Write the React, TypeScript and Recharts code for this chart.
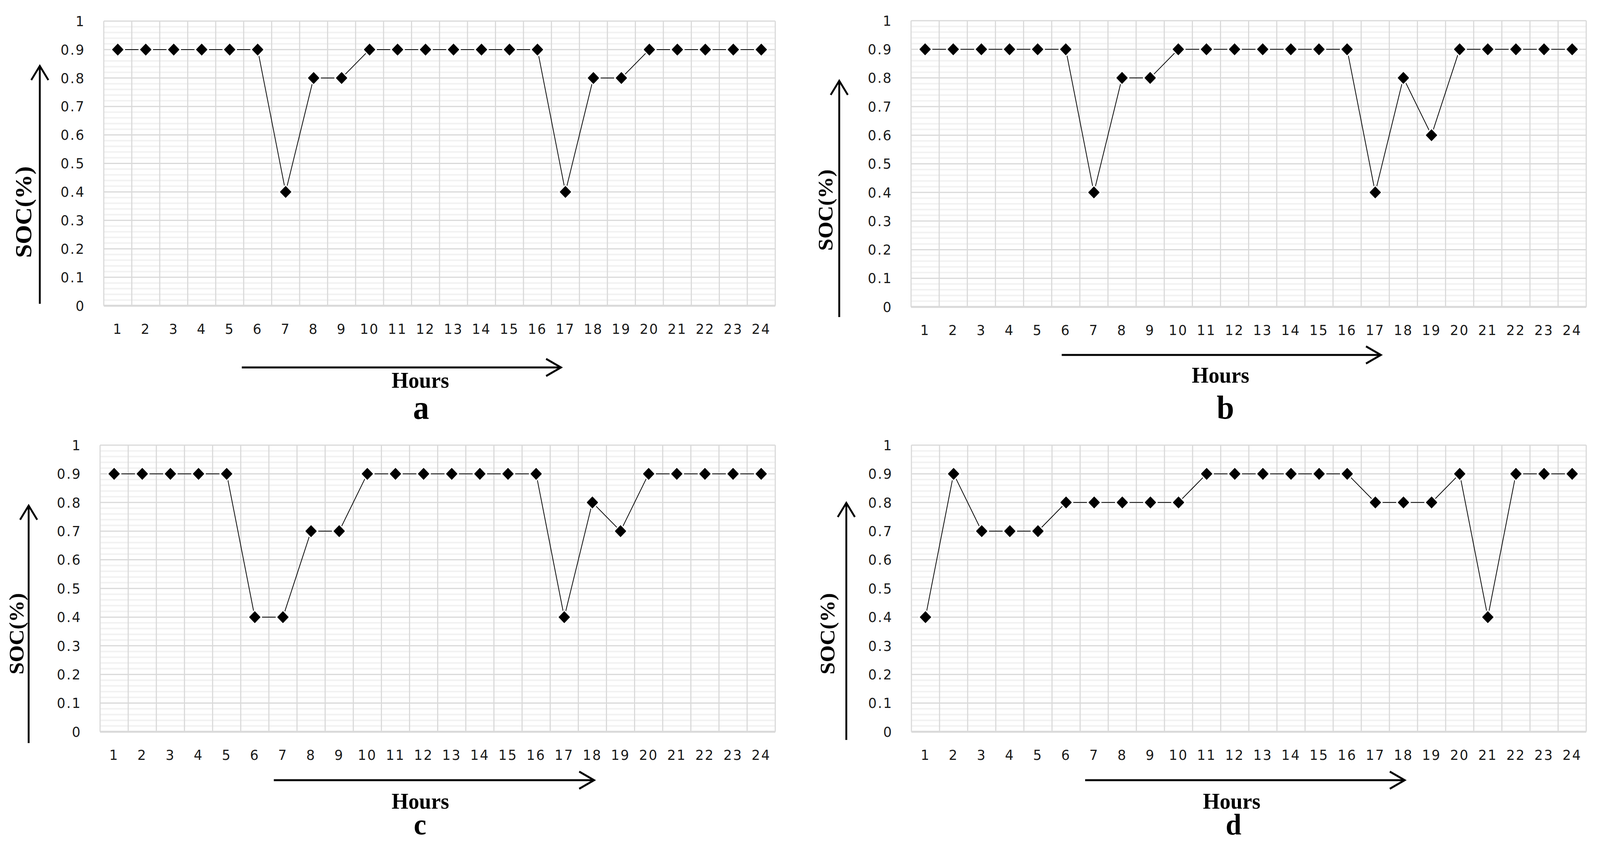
import React from "react"
import { LineChart, Line, XAxis, YAxis, CartesianGrid } from "recharts"

// hours on the x axis
const hours = [1, 2, 3, 4, 5, 6, 7, 8, 9, 10, 11, 12, 13, 14, 15, 16, 17, 18, 19, 20, 21, 22, 23, 24]

// SOC
const socA = [0.9, 0.9, 0.9, 0.9, 0.9, 0.9, 0.4, 0.8, 0.8, 0.9, 0.9, 0.9, 0.9, 0.9, 0.9, 0.9, 0.4, 0.8, 0.8, 0.9, 0.9, 0.9, 0.9, 0.9]
const socB = [0.9, 0.9, 0.9, 0.9, 0.9, 0.9, 0.4, 0.8, 0.8, 0.9, 0.9, 0.9, 0.9, 0.9, 0.9, 0.9, 0.4, 0.8, 0.6, 0.9, 0.9, 0.9, 0.9, 0.9]
const socC = [0.9, 0.9, 0.9, 0.9, 0.9, 0.4, 0.4, 0.7, 0.7, 0.9, 0.9, 0.9, 0.9, 0.9, 0.9, 0.9, 0.4, 0.8, 0.7, 0.9, 0.9, 0.9, 0.9, 0.9]
const socD = [0.4, 0.9, 0.7, 0.7, 0.7, 0.8, 0.8, 0.8, 0.8, 0.8, 0.9, 0.9, 0.9, 0.9, 0.9, 0.9, 0.8, 0.8, 0.8, 0.9, 0.4, 0.9, 0.9, 0.9]

const yTicks = [0, 0.1, 0.2, 0.3, 0.4, 0.5, 0.6, 0.7, 0.8, 0.9, 1]
const panelLetters = ["a", "b", "c", "d"]
const yTitle = "SOC(%)"
const xTitle = "Hours"

const PAGE_W = 4301
const PAGE_H = 2164
const CELL_W = 2150
const CELL_H = 1082
const Y_AXIS_W = 100
const X_AXIS_H = 90
const X_MIN = 0.5
const X_MAX = 24.5

const tickFont = { fontFamily: "DejaVu Sans", fontSize: 36, fill: "#1a1a1a", letterSpacing: 3 }
const serif = "Liberation Serif, Times New Roman, serif"

// minor grid every 0.02 between the major lines
const minorTicks: number[] = []
for (let i = 1; i < 50; i++) {
  if (i % 5 !== 0) minorTicks.push(i / 50)
}
const boundaries = [...hours.map((h) => h - 0.5), hours[hours.length - 1] + 0.5]

const yPos = (yAxis: any, offset: any, v: number) =>
  typeof yAxis?.scale === "function" ? yAxis.scale(v) : offset.top + offset.height * (1 - v)
const xPos = (xAxis: any, offset: any, v: number) =>
  typeof xAxis?.scale === "function"
    ? xAxis.scale(v)
    : offset.left + (offset.width * (v - X_MIN)) / (X_MAX - X_MIN)

function Diamond(props: any) {
  const { cx, cy } = props
  if (cx == null || cy == null) return null
  const pts = (r: number) => `${cx},${cy - r} ${cx + r},${cy} ${cx},${cy + r} ${cx - r},${cy}`
  return (
    <g>
      <polygon points={pts(20)} fill="#fff" />
      <polygon points={pts(15.5)} fill="#000" />
    </g>
  )
}

interface PanelProps {
  values: number[]
  ox: number
  oy: number
  plot: { left: number; right: number; top: number; bottom: number }
}

function Panel({ values, ox, oy, plot }: PanelProps) {
  const data = hours.map((h, i) => ({ hour: h, soc: values[i] }))
  const margin = {
    top: plot.top - oy,
    left: plot.left - ox - Y_AXIS_W,
    right: ox + CELL_W - plot.right,
    bottom: oy + CELL_H - plot.bottom - X_AXIS_H,
  }
  return (
    <div style={{ position: "absolute", left: ox, top: oy, width: CELL_W, height: CELL_H }}>
      <LineChart width={CELL_W} height={CELL_H} data={data} margin={margin}>
        <CartesianGrid
          vertical={false}
          stroke="#f2f2f2"
          strokeWidth={4}
          horizontalCoordinatesGenerator={({ yAxis, offset }: any) => minorTicks.map((v) => yPos(yAxis, offset, v))}
        />
        <CartesianGrid
          stroke="#d9d9d9"
          strokeWidth={3}
          horizontalCoordinatesGenerator={({ yAxis, offset }: any) => yTicks.map((v) => yPos(yAxis, offset, v))}
          verticalCoordinatesGenerator={({ xAxis, offset }: any) => boundaries.map((b) => xPos(xAxis, offset, b))}
        />
        <XAxis
          dataKey="hour"
          type="number"
          domain={[X_MIN, X_MAX]}
          ticks={hours}
          interval={0}
          height={X_AXIS_H}
          tickLine={false}
          tickSize={0}
          tickMargin={46}
          axisLine={{ stroke: "#d9d9d9", strokeWidth: 5 }}
          tick={tickFont}
        />
        <YAxis
          type="number"
          domain={[0, 1]}
          ticks={yTicks}
          width={Y_AXIS_W}
          tickLine={false}
          tickSize={0}
          tickMargin={50}
          axisLine={false}
          tick={tickFont}
        />
        <Line
          type="linear"
          dataKey="soc"
          stroke="#000"
          strokeWidth={2}
          dot={(p: any) => <Diamond key={`dot-${p.index}`} {...p} />}
          activeDot={false}
          isAnimationActive={false}
        />
      </LineChart>
    </div>
  )
}

interface Deco {
  soc: { x: number; y: number; size: number }
  vArrow: { x: number; y1: number; y2: number }
  hArrow: { y: number; x1: number; x2: number }
  hours: { x: number; y: number }
  letter: { x: number; y: number; size: number }
}

const decos: Deco[] = [
  { soc: { x: 63, y: 543, size: 63 }, vArrow: { x: 107, y1: 778, y2: 169 }, hArrow: { y: 941, x1: 650, x2: 1508 }, hours: { x: 1130, y: 993 }, letter: { x: 1132, y: 1073, size: 86 } },
  { soc: { x: 2219, y: 538, size: 56 }, vArrow: { x: 2256, y1: 812, y2: 207 }, hArrow: { y: 909, x1: 2854, x2: 3712 }, hours: { x: 3281, y: 980 }, letter: { x: 3294, y: 1072, size: 84 } },
  { soc: { x: 44, y: 1623, size: 56 }, vArrow: { x: 77, y1: 1903, y2: 1295 }, hArrow: { y: 1998, x1: 736, x2: 1597 }, hours: { x: 1130, y: 2071 }, letter: { x: 1129, y: 2137, size: 76 } },
  { soc: { x: 2224, y: 1623, size: 56 }, vArrow: { x: 2275, y1: 1895, y2: 1288 }, hArrow: { y: 1998, x1: 2917, x2: 3776 }, hours: { x: 3311, y: 2071 }, letter: { x: 3316, y: 2137, size: 76 } },
]

function Overlay() {
  return (
    <svg width={PAGE_W} height={PAGE_H} style={{ position: "absolute", left: 0, top: 0, pointerEvents: "none" }}>
      {decos.map((d, i) => (
        <g key={i} stroke="#000" strokeWidth={5} fill="none" strokeLinecap="butt">
          <line x1={d.vArrow.x} y1={d.vArrow.y1} x2={d.vArrow.x} y2={d.vArrow.y2} />
          <polyline points={`${d.vArrow.x - 23},${d.vArrow.y2 + 36} ${d.vArrow.x},${d.vArrow.y2} ${d.vArrow.x + 23},${d.vArrow.y2 + 36}`} />
          <line x1={d.hArrow.x1} y1={d.hArrow.y} x2={d.hArrow.x2} y2={d.hArrow.y} />
          <polyline points={`${d.hArrow.x2 - 40},${d.hArrow.y - 22} ${d.hArrow.x2},${d.hArrow.y} ${d.hArrow.x2 - 40},${d.hArrow.y + 22}`} />
          <text
            x={d.soc.x}
            y={d.soc.y}
            transform={`rotate(-90 ${d.soc.x} ${d.soc.y})`}
            textAnchor="middle"
            dominantBaseline="central"
            fontFamily={serif}
            fontWeight="bold"
            fontSize={d.soc.size}
            fill="#000"
            stroke="none"
          >
            {yTitle}
          </text>
          <text x={d.hours.x} y={d.hours.y} textAnchor="middle" fontFamily={serif} fontWeight="bold" fontSize={58} fill="#000" stroke="none">
            {xTitle}
          </text>
          <text x={d.letter.x} y={d.letter.y} textAnchor="middle" fontFamily={serif} fontWeight="bold" fontSize={d.letter.size} fill="#000" stroke="none">
            {panelLetters[i]}
          </text>
        </g>
      ))}
    </svg>
  )
}

export default function App() {
  // fit the 4301x2164 layout into whatever viewport the page really gets
  const vw = typeof window !== "undefined" ? window.innerWidth : PAGE_W
  const vh = typeof window !== "undefined" ? window.innerHeight : PAGE_H
  const sx = Math.min(1, vw / PAGE_W)
  const sy = Math.min(1, vh / PAGE_H)
  return (
    <div style={{ position: "absolute", left: 0, top: 0, width: PAGE_W, height: PAGE_H, background: "#fff", overflow: "hidden", transform: `scale(${sx}, ${sy})`, transformOrigin: "0 0" }}>
      <Panel values={socA} ox={0} oy={0} plot={{ left: 279, right: 2084, top: 54, bottom: 783 }} />
      <Panel values={socB} ox={2150} oy={0} plot={{ left: 2449, right: 4264, top: 53, bottom: 786 }} />
      <Panel values={socC} ox={0} oy={1082} plot={{ left: 269, right: 2084, top: 1140, bottom: 1874 }} />
      <Panel values={socD} ox={2150} oy={1082} plot={{ left: 2450, right: 4264, top: 1140, bottom: 1874 }} />
      <Overlay />
    </div>
  )
}
